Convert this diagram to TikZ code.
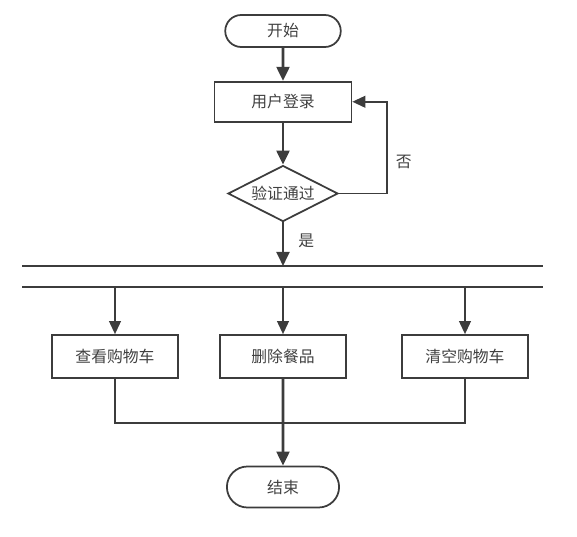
\documentclass[tikz,border=0pt]{standalone}
\usepackage{fontspec}
\setmainfont{Noto Sans CJK SC}
\usetikzlibrary{arrows.meta,positioning,shapes.geometric,shapes.misc}
\definecolor{FlowLine}{HTML}{3C3C3C}
\definecolor{FlowText}{HTML}{404040}

\begin{document}
\begin{tikzpicture}[x=0.03cm,y=-0.03cm,
  term/.style={draw=FlowLine,line width=1.5pt,rounded rectangle,minimum width=3.7cm,minimum height=0.96cm,font=\fontsize{13.5pt}{16pt}\selectfont,text=FlowText},
  proc/.style={draw=FlowLine,line width=1.5pt,rectangle,minimum width=3.8cm,minimum height=1.29cm,font=\fontsize{13.5pt}{16pt}\selectfont,text=FlowText},
  dec/.style={draw=FlowLine,line width=1.5pt,diamond,aspect=2,inner sep=0pt,minimum width=3.3cm,minimum height=1.68cm,font=\fontsize{13.5pt}{16pt}\selectfont,text=FlowText},
  lbl/.style={inner sep=0pt,font=\fontsize{13.5pt}{16pt}\selectfont,text=FlowText},
  flow/.style={draw=FlowLine,line width=2.2pt,-{Triangle[length=12pt,width=11pt]}},
  branch/.style={draw=FlowLine,line width=1.3pt,-{Triangle[length=11pt,width=10pt]}},
  link/.style={draw=FlowLine,line width=1.3pt},
]
\useasboundingbox (0,0) rectangle (577,537);

% login part
\node[term] (start) at (283,31) {开始};
\node[proc,below=0.99cm of start,minimum width=4.11cm,minimum height=1.2cm] (login) {用户登录};
\node[dec,below=1.26cm of login] (check) {验证通过};

% the two bars
\coordinate (barA) at (0,266);
\coordinate (barB) at (0,287);
\coordinate (merge) at (0,423);
\draw[link] (22,266) -- (543,266);
\draw[link] (22,287) -- (543,287);

% cart actions
\node[proc] (view) at (115,356.5) {查看购物车};
\node[proc] (del) at (283,356.5) {删除餐品};
\node[proc] (clear) at (465,356.5) {清空购物车};
\node[term,minimum width=3.6cm,minimum height=1.23cm] (stop) at (283,487) {结束};

\draw[flow] (start) -- (login);
\draw[flow] (login) -- (check);
\draw[flow] (check) -- node[lbl,right=12pt,pos=0.42] (yes) {是} (check.south |- barA);
\draw[branch] (check.east) -- ++(48,0) |- node[lbl,right=7pt,pos=0.17] (no) {否} (login.east);

\draw[branch] (view |- barB) -- (view);
\draw[branch] (del |- barB) -- (del);
\draw[branch] (clear |- barB) -- (clear);

\draw[link] (view.south) |- (clear |- merge) -- (clear.south);
\draw[flow] (del) -- (stop);
\end{tikzpicture}
\end{document}
